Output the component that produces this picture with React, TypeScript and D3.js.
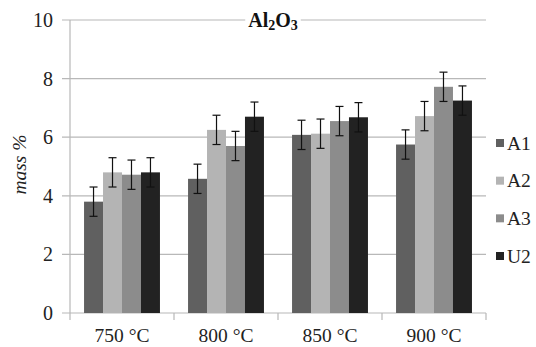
import * as d3 from "d3";
import { useEffect, useRef } from "react";

const W = 536;
const H = 347;
const M = { top: 20, right: 50, bottom: 34, left: 70 };

const categories = ["750 °C", "800 °C", "850 °C", "900 °C"];
const series = ["A1", "A2", "A3", "U2"];
const colors = ["#606060", "#b4b4b4", "#8c8c8c", "#222222"];
const a1 = [3.8, 4.58, 6.08, 5.75];
const a2 = [4.8, 6.25, 6.12, 6.72];
const a3 = [4.72, 5.7, 6.55, 7.72];
const u2 = [4.8, 6.7, 6.68, 7.25];
const a1Err = [0.5, 0.5, 0.5, 0.5];
const a2Err = [0.5, 0.5, 0.5, 0.5];
const a3Err = [0.5, 0.5, 0.5, 0.5];
const u2Err = [0.5, 0.5, 0.5, 0.5];
const yTicks = [0, 2, 4, 6, 8, 10];

const FONT = "Liberation Serif";

export default function App() {
	const svgRef = useRef<SVGSVGElement>(null);

	useEffect(() => {
		const svg = svgRef.current;
		if (!svg) return;
		const sel = d3.select(svg);
		sel.selectAll("*").remove();

		const values = [a1, a2, a3, u2];
		const errs = [a1Err, a2Err, a3Err, u2Err];
		const plotW = W - M.left - M.right;
		const plotH = H - M.top - M.bottom;

		const x = d3.scaleBand<string>().domain(categories).range([0, plotW]).paddingInner(0).paddingOuter(0);
		const inner = d3
			.scaleBand<string>()
			.domain(series)
			.range([0, x.bandwidth()])
			.paddingInner(0)
			.paddingOuter(0.74);
		const y = d3.scaleLinear().domain([0, 10]).range([plotH, 0]);

		const g = sel.append("g").attr("transform", `translate(${M.left},${M.top})`);

		// gridlines
		g.selectAll("line.grid")
			.data(yTicks)
			.enter()
			.append("line")
			.attr("x1", -8)
			.attr("x2", plotW)
			.attr("y1", (d) => y(d))
			.attr("y2", (d) => y(d))
			.attr("stroke", "#b8b8b8")
			.attr("stroke-width", 1.2);

		// y axis line
		g.append("line")
			.attr("x1", 0)
			.attr("x2", 0)
			.attr("y1", 0)
			.attr("y2", plotH)
			.attr("stroke", "#b8b8b8")
			.attr("stroke-width", 1.2);

		// x ticks
		const xt = categories.map((c) => x(c) ?? 0).concat([plotW]);
		g.selectAll("line.xt")
			.data(xt)
			.enter()
			.append("line")
			.attr("x1", (d) => d)
			.attr("x2", (d) => d)
			.attr("y1", plotH)
			.attr("y2", plotH + 7)
			.attr("stroke", "#b8b8b8")
			.attr("stroke-width", 1.2);

		// y labels
		g.selectAll("text.yl")
			.data(yTicks)
			.enter()
			.append("text")
			.attr("x", -17)
			.attr("y", (d) => y(d))
			.attr("dy", "0.35em")
			.attr("text-anchor", "end")
			.style("font-family", FONT)
			.attr("font-size", 20)
			.attr("fill", "#222")
			.text((d) => d);

		// x labels
		g.selectAll("text.xl")
			.data(categories)
			.enter()
			.append("text")
			.attr("x", (d) => (x(d) ?? 0) + x.bandwidth() / 2)
			.attr("y", plotH + 29)
			.attr("text-anchor", "middle")
			.style("font-family", FONT)
			.attr("font-size", 19.5)
			.attr("fill", "#222")
			.text((d) => d);

		// bars
		series.forEach((s, si) => {
			categories.forEach((c, ci) => {
				const v = values[si][ci];
				const bx = (x(c) ?? 0) + (inner(s) ?? 0);
				g.append("rect")
					.attr("x", bx)
					.attr("y", y(v))
					.attr("width", inner.bandwidth())
					.attr("height", y(0) - y(v))
					.attr("fill", colors[si]);
			});
		});

		// error bars
		series.forEach((s, si) => {
			categories.forEach((c, ci) => {
				const v = values[si][ci];
				const e = errs[si][ci];
				const cx = (x(c) ?? 0) + (inner(s) ?? 0) + inner.bandwidth() / 2;
				const eg = g.append("g").attr("stroke", "#111").attr("stroke-width", 1.2);
				eg.append("line").attr("x1", cx).attr("x2", cx).attr("y1", y(v + e)).attr("y2", y(v - e));
				eg.append("line").attr("x1", cx - 4).attr("x2", cx + 4).attr("y1", y(v + e)).attr("y2", y(v + e));
				eg.append("line").attr("x1", cx - 4).attr("x2", cx + 4).attr("y1", y(v - e)).attr("y2", y(v - e));
			});
		});

		// title
		const title = g
			.append("text")
			.attr("x", 203)
			.attr("y", 7)
			.attr("text-anchor", "middle")
			.style("font-family", FONT)
			.attr("font-size", 20)
			.attr("font-weight", "bold")
			.attr("fill", "#111");
		title.append("tspan").text("Al");
		title.append("tspan").attr("font-size", 14).attr("dy", 3).text("2");
		title.append("tspan").attr("dy", -3).text("O");
		title.append("tspan").attr("font-size", 14).attr("dy", 3).text("3");
		const bb = (title.node() as SVGTextElement).getBBox();
		g.insert("rect", "text")
			.attr("x", bb.x - 3)
			.attr("y", -3)
			.attr("width", bb.width + 6)
			.attr("height", 6)
			.attr("fill", "#fff");

		// y axis title
		sel.append("text")
			.attr("transform", `translate(${26},${M.top + y(5) - 2}) rotate(-90)`)
			.attr("text-anchor", "middle")
			.style("font-family", FONT)
			.attr("font-size", 19.5)
			.attr("font-style", "italic")
			.attr("fill", "#222")
			.text("mass %");

		// legend
		const ly = d3.scalePoint<string>().domain(series).range([143, 256]);
		const lg = sel.append("g");
		series.forEach((s, si) => {
			const yy = ly(s) ?? 0;
			lg.append("rect")
				.attr("x", 496)
				.attr("y", yy - 4)
				.attr("width", 8)
				.attr("height", 8)
				.attr("fill", colors[si]);
			lg.append("text")
				.attr("x", 507)
				.attr("y", yy)
				.attr("dy", "0.35em")
				.style("font-family", FONT)
				.attr("font-size", 19.5)
				.attr("fill", "#222")
				.text(s);
		});
	}, []);

	return <svg ref={svgRef} width={W} height={H} style={{ display: "block", position: "absolute", left: 0, top: 0 }} />;
}
